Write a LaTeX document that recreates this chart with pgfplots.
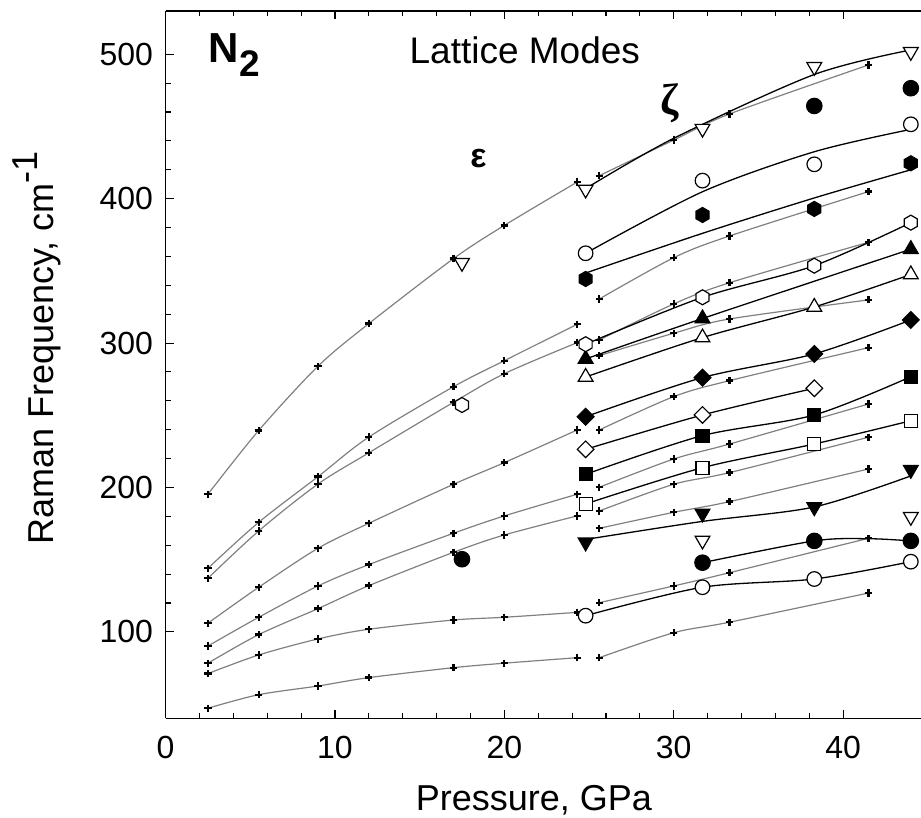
\documentclass[border=0pt]{standalone}
\usepackage{pgfplots}
\pgfplotsset{compat=1.18}
\usepackage{fontspec}
\setmainfont{Liberation Sans}
\newfontfamily\zfont{Liberation Serif}
\definecolor{grayc}{RGB}{128,128,128}
\pgfdeclareplotmark{hexagon}{%
  \pgfpathmoveto{\pgfqpointpolar{90}{\pgfplotmarksize}}%
  \pgfpathlineto{\pgfqpointpolar{150}{\pgfplotmarksize}}%
  \pgfpathlineto{\pgfqpointpolar{210}{\pgfplotmarksize}}%
  \pgfpathlineto{\pgfqpointpolar{270}{\pgfplotmarksize}}%
  \pgfpathlineto{\pgfqpointpolar{330}{\pgfplotmarksize}}%
  \pgfpathlineto{\pgfqpointpolar{30}{\pgfplotmarksize}}%
  \pgfpathclose\pgfusepathqfillstroke}
\pgfplotsset{
  gr/.style={color=grayc, line width=1.2pt, smooth, mark=+, mark size=3.6pt,
     mark options={black, line width=2.3pt, solid}},
  bl/.style={black, line width=1.3pt, smooth, no marks},
  mk/.style={only marks, mark options={draw=black, line width=1.2pt, solid, #1}},
}
\begin{document}
\begin{tikzpicture}
\begin{axis}[
  scale only axis, width=755.5pt, height=707.6pt,
  xmin=0, xmax=44.6, ymin=40, ymax=530,
  axis x line*=box, axis y line*=left,
  axis line style={line width=1.3pt},
  xtick={0,10,20,30,40}, ytick={100,200,300,400,500},
  minor x tick num=4, minor y tick num=4,
  tick align=inside,
  major tick length=8pt, minor tick length=5pt,
  every tick/.style={black, line width=1.1pt},
  /pgf/number format/assume math mode=true,
  ticklabel style={font=\fontsize{32}{38}\selectfont},
  xticklabel style={yshift=-14pt},
  yticklabel style={xshift=-9pt},
  xlabel={Pressure, GPa},
  ylabel={Raman Frequency, cm\raisebox{16pt}{-1}},
  label style={font=\fontsize{36}{43}\selectfont},
  xlabel style={at={(axis description cs:0.4877,-0.1305)}, anchor=base},
  ylabel style={at={(axis description cs:-0.149,0.5237)}, anchor=base},
  clip mode=individual,
]
% epsilon-phase calculated curves
\addplot[gr] coordinates {(2.5,195.3)(5.5,239.5)(9,284)(12,313.5)(17,358.5)(20,381.5)(24.3,411.5)};
\addplot[gr] coordinates {(2.5,144.0)(5.5,175.9)(9,207.5)(12,234.9)(17,269.8)(20,287.8)(24.3,313.0)};
\addplot[gr] coordinates {(2.5,137.1)(5.5,169.9)(9,202.4)(12,224.0)(17,259.0)(20,278.8)(24.3,300.3)};
\addplot[gr] coordinates {(2.5,106.0)(5.5,130.9)(9,157.9)(12,175.2)(17,202.2)(20,217.2)(24.3,239.8)};
\addplot[gr] coordinates {(2.5,90.2)(5.5,110.1)(9,131.8)(12,146.6)(17,168.3)(20,180.3)(24.3,195.3)};
\addplot[gr] coordinates {(2.5,78.3)(5.5,98.1)(9,116.1)(12,132.0)(17,155.1)(20,167.1)(24.3,180.3)};
\addplot[gr] coordinates {(2.5,71.1)(5.5,84.0)(9,95.1)(12,101.8)(17,108.2)(20,110.1)(24.3,113.5)};
\addplot[gr] coordinates {(2.5,47.1)(5.5,56.5)(9,62.5)(12,68.3)(17,75.2)(20,78.3)(24.3,82.1)};
% zeta-phase calculated curves
\addplot[gr] coordinates {(25.6,415.9)(30,440.6)(33.3,458.7)(41.5,492.6)};
\addplot[gr] coordinates {(25.6,330.5)(30,359.1)(33.3,374.2)(41.5,404.9)};
\addplot[gr] coordinates {(25.6,302.1)(30,327.1)(33.3,341.8)(41.5,369.8)};
\addplot[gr] coordinates {(25.6,291.3)(30,306.8)(33.3,316.7)(41.5,329.9)};
\addplot[gr] coordinates {(25.6,239.8)(30,262.9)(33.3,274.0)(41.5,296.8)};
\addplot[gr] coordinates {(25.6,200.1)(30,219.7)(33.3,230.1)(41.5,257.8)};
\addplot[gr] coordinates {(25.6,183.7)(30,202.2)(33.3,210.3)(41.5,234.8)};
\addplot[gr] coordinates {(25.6,171.7)(30,182.8)(33.3,190.2)(41.5,212.8)};
\addplot[gr] coordinates {(25.6,120.2)(30,131.8)(33.3,141.0)(41.5,164.8)};
\addplot[gr] coordinates {(25.6,82.1)(30,99.4)(33.3,106.7)(41.5,126.9)};
% experimental fits
\addplot[bl] coordinates {(24.8,407)(30,441.8)(38.3,486)(44,503)};
\addplot[bl] coordinates {(24.8,362.2)(31.7,404.8)(38.3,432.5)(44,448)};
\addplot[bl] coordinates {(24.8,348.5)(31.7,376)(38.3,400.5)(44,420)};
\addplot[bl] coordinates {(24.8,299.2)(31.7,331.7)(38.3,353.6)(44,383.4)};
\addplot[bl] coordinates {(24.8,289)(31.7,317)(44,365)};
\addplot[bl] coordinates {(24.8,276.5)(31.7,303.8)(38.3,325)(44,347.5)};
\addplot[bl] coordinates {(24.8,249.0)(31.7,276.1)(38.3,292.5)(44,316.0)};
\addplot[bl] coordinates {(24.8,226.4)(31.7,250.2)(38.3,268.7)};
\addplot[bl] coordinates {(24.8,209.1)(31.7,235.9)(38.3,250.2)(44,276.7)};
\addplot[bl] coordinates {(24.8,188.6)(31.7,213.7)(38.3,230.1)(44,246.2)};
\addplot[bl] coordinates {(24.8,164)(31.7,176.5)(38.3,186.5)(44,208)};
\addplot[bl] coordinates {(31.7,147.9)(38.3,163.0)(41.5,164.5)(44,163.0)};
\addplot[bl] coordinates {(24.8,111.2)(31.7,130.9)(38.3,136.6)(44,148.6)};
% experimental points
\addplot[mk={fill=black}, mark=*, mark size=7.7pt] coordinates {(17.5,150.3)(31.7,147.9)(38.3,163.0)(44,163.0)(38.3,464.2)(44,476.5)};
\addplot[mk={fill=white}, mark=*, mark size=7.3pt] coordinates {(24.8,111.2)(31.7,130.9)(38.3,136.6)(44,148.6)(24.8,362.2)(31.7,412.5)(38.3,423.8)(44,451.5)};
\addplot[mk={fill=white, rotate=180}, mark=triangle*, mark size=8.5pt] coordinates {(17.5,355.6)(24.8,406.4)(31.7,448.5)(38.3,491.3)(44,501.7)(31.7,163.3)(44,179.7)};
\addplot[mk={fill=black, rotate=180}, mark=triangle*, mark size=8.5pt] coordinates {(24.8,162)(31.7,182)(38.3,186.4)(44,212.3)};
\addplot[mk={fill=black}, mark=triangle*, mark size=8.5pt] coordinates {(24.8,289)(31.7,317)(44,365)};
\addplot[mk={fill=white}, mark=triangle*, mark size=8.5pt] coordinates {(24.8,276.5)(31.7,303.8)(38.3,325)(44,347.5)};
\addplot[mk={fill=black}, mark=hexagon, mark size=7.5pt] coordinates {(24.8,344.4)(31.7,388.7)(38.3,392.9)(44,424.5)};
\addplot[mk={fill=white}, mark=hexagon, mark size=7.5pt] coordinates {(17.5,257.1)(24.8,299.2)(31.7,331.7)(38.3,353.6)(44,383.4)};
\addplot[mk={fill=black, rotate=45}, mark=square*, mark size=5.9pt] coordinates {(24.8,249.0)(31.7,276.1)(38.3,292.5)(44,316.0)};
\addplot[mk={fill=white, rotate=45}, mark=square*, mark size=5.9pt] coordinates {(24.8,226.4)(31.7,250.2)(38.3,268.7)};
\addplot[mk={fill=black}, mark=square*, mark size=6.5pt] coordinates {(24.8,209.1)(31.7,235.9)(38.3,250.2)(44,276.7)};
\addplot[mk={fill=white}, mark=square*, mark size=6.5pt] coordinates {(24.8,188.6)(31.7,213.7)(38.3,230.1)(44,246.2)};
% annotations
\node[anchor=base west, font=\bfseries\fontsize{42}{50}\selectfont] at (axis cs:2.34,494) {N\raisebox{-14pt}{\fontsize{37}{44}\selectfont 2}};
\node[anchor=base west, font=\fontsize{37}{44}\selectfont] at (axis cs:14.2,493.8) {Lattice Modes};
\node[font=\bfseries\fontsize{34}{40}\selectfont] at (axis cs:18.47,427.8) {ε};
\node[font=\zfont\bfseries\fontsize{44}{52}\selectfont] at (axis cs:29.78,466.3) {ζ};
\coordinate (bl) at (axis cs:-9.776,-28.9);
\coordinate (tr) at (axis cs:44.6,537.6);
\end{axis}
\pgfresetboundingbox
\useasboundingbox (bl) rectangle (tr);
\end{tikzpicture}
\end{document}
